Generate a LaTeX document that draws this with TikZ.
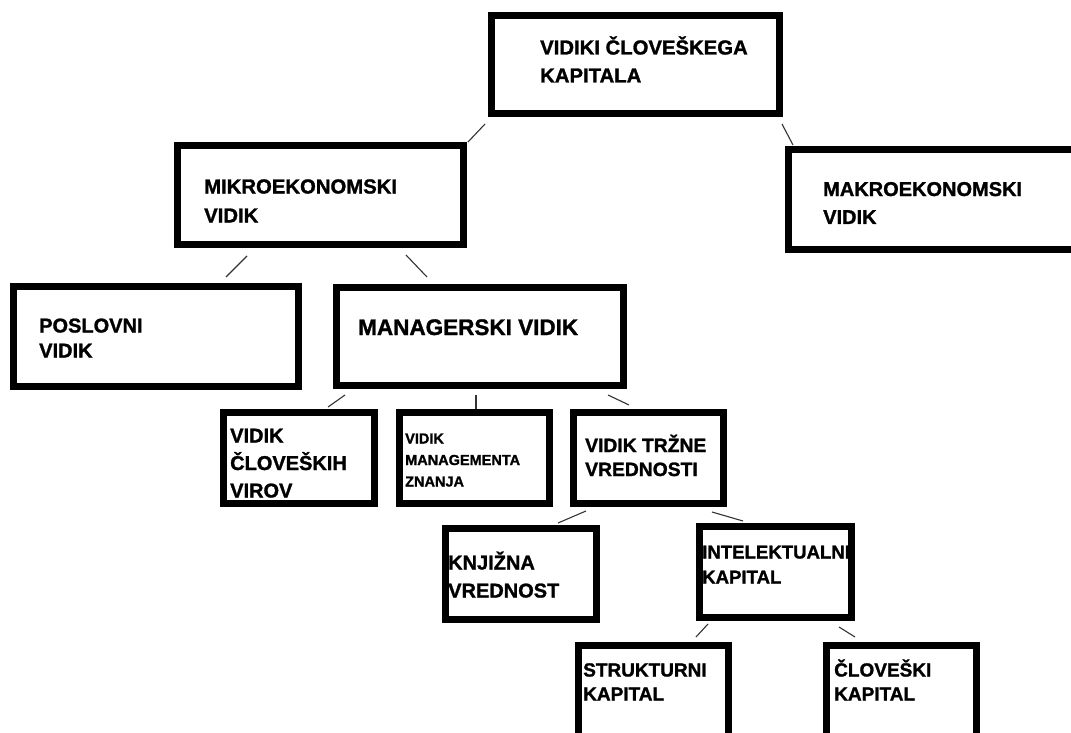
\documentclass[tikz,border=0pt]{standalone}
\usepackage{fontspec}
\setmainfont{Liberation Sans}[BoldFeatures={FakeBold=1.3}]
\usetikzlibrary{calc}
\newcommand\twoln[2]{\vtop{\hbox{#1}\hbox{#2}}}
\newcommand\threeln[3]{\vtop{\hbox{#1}\hbox{#2}\hbox{#3}}}
\newcommand\fs[2]{\fontsize{#1}{#2}\selectfont\bfseries}
\begin{document}
\begin{tikzpicture}[x=1pt,y=-1pt,
  box/.style={draw=black, line width=7pt, rectangle, inner sep=0pt},
  txt/.style={anchor=base west, inner sep=0pt, text=black},
  conn/.style={draw=black!80, line width=1.1pt}]
\useasboundingbox (0,0) rectangle (1071,733);
\clip (0,0) rectangle (1071,733);
\fill[white] (0,0) rectangle (1071,733);
% boxes
\node[box, minimum width=288pt, minimum height=98pt] (top) at (635.5,64.5) {};
\node[box, minimum width=286pt, minimum height=99pt] (mikro) at (320.5,195) {};
\node[box, minimum width=298pt, minimum height=100pt] (makro) at (937.5,199.5) {};
\node[box, minimum width=285pt, minimum height=100pt] (poslovni) at (156,336.5) {};
\node[box, minimum width=287pt, minimum height=98pt] (manager) at (480,336.5) {};
\node[box, minimum width=151pt, minimum height=91pt] (cloveskih) at (299,458) {};
\node[box, minimum width=150pt, minimum height=91pt] (management) at (474.5,458) {};
\node[box, minimum width=150pt, minimum height=91pt] (trzne) at (648.5,458) {};
\node[box, minimum width=151pt, minimum height=91pt] (knjizna) at (521,574) {};
\node[box, minimum width=152pt, minimum height=91pt] (intel) at (775.5,572) {};
\node[box, minimum width=150pt, minimum height=101pt] (strukturni) at (653.5,696) {};
\node[box, minimum width=150pt, minimum height=101pt] (cloveski) at (901.5,696) {};
% texts
\node[txt, font=\fs{20.3}{28}] (ttop) at (540,54.5) {\twoln{VIDIKI ČLOVEŠKEGA}{KAPITALA}};
\node[txt, font=\fs{20.3}{29}] (tmikro) at (204,193.5) {\twoln{MIKROEKONOMSKI}{VIDIK}};
\node[txt, font=\fs{20}{28}] (tmakro) at (823,196) {\twoln{MAKROEKONOMSKI}{VIDIK}};
\node[txt, font=\fs{20}{25}] (tposlovni) at (39,332.5) {\twoln{POSLOVNI}{VIDIK}};
\node[txt, font=\fs{22.5}{27}] (tmanager) at (358,335) {MANAGERSKI VIDIK};
\node[txt, font=\fs{20}{27.5}] (tcloveskih) at (230,442.5) {\threeln{VIDIK}{ČLOVEŠKIH}{VIROV}};
\node[txt, font=\fs{14.5}{21.5}] (tmanagement) at (405,443.5) {\threeln{VIDIK}{MANAGEMENTA}{ZNANJA}};
\node[txt, font=\fs{19.3}{24}] (ttrzne) at (585,452) {\twoln{VIDIK TRŽNE}{VREDNOSTI}};
\node[txt, font=\fs{20}{28}] (tknjizna) at (448,569.5) {\twoln{KNJIŽNA}{VREDNOST}};
\node[txt, font=\fs{18.6}{25}] (tintel) at (702,558.5) {\twoln{INTELEKTUALNI}{KAPITAL}};
\node[txt, font=\fs{19}{24}] (tstruk) at (583,676.5) {\twoln{STRUKTURNI}{KAPITAL}};
\node[txt, font=\fs{19}{24}] (tclov) at (834,676.5) {\twoln{ČLOVEŠKI}{KAPITAL}};
% connectors
\draw[conn] ($(top.south west)+(-3,7)$) -- ($(mikro.north east)+(1,0)$);
\draw[conn] ($(top.south east)+(-1,7)$) -- ($(makro.north west)+(8,-1)$);
\draw[conn] ($(mikro.south west)+(73,8)$) -- ($(poslovni.north east)+(-76,-6)$);
\draw[conn] ($(mikro.south east)+(-61,7)$) -- ($(manager.north west)+(94,-7)$);
\draw[conn] ($(manager.south west)+(12,6)$) -- ($(cloveskih.north east)+(-50,-2)$);
\draw[conn] ($(manager.south)+(-4,6)$) -- ($(management.north)+(1.5,0)$);
\draw[conn] ($(manager.south east)+(-19,6)$) -- ($(trzne.north west)+(59,-4)$);
\draw[conn] ($(trzne.south west)+(16,4)$) -- ($(knjizna.north east)+(-42,-2)$);
\draw[conn] ($(trzne.south east)+(-15,5)$) -- ($(intel.north west)+(47,-2)$);
\draw[conn] ($(intel.south west)+(12,3)$) -- ($(strukturni.north east)+(-36,-5)$);
\draw[conn] ($(intel.south east)+(-16,6)$) -- ($(cloveski.north west)+(32,-5)$);
\end{tikzpicture}
\end{document}
